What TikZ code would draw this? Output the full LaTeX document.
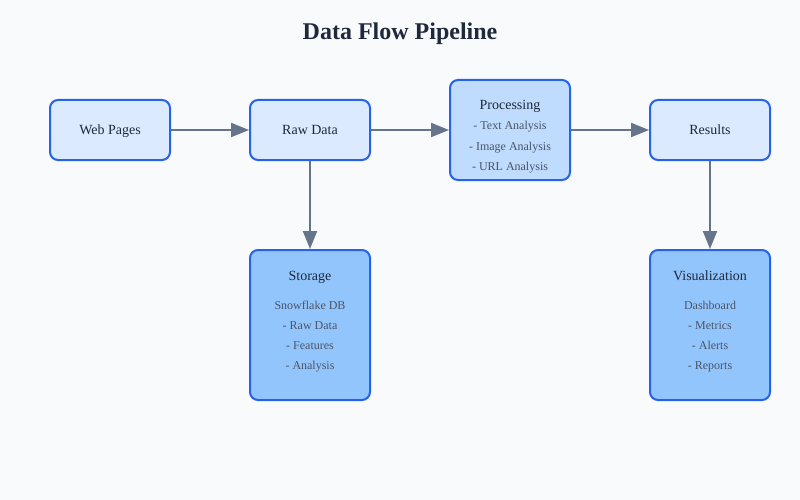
\documentclass[tikz,border=0pt]{standalone}
\usepackage{fontspec}
\setmainfont{Liberation Serif}
\usetikzlibrary{arrows.meta}
\definecolor{bg}{HTML}{F8FAFC}
\definecolor{edge}{HTML}{2563EB}
\definecolor{fillA}{HTML}{DBEAFE}
\definecolor{fillB}{HTML}{BFDBFE}
\definecolor{fillC}{HTML}{93C5FD}
\definecolor{arr}{HTML}{64748B}
\definecolor{titlec}{HTML}{1E293B}
\definecolor{subc}{HTML}{4A5568}
\tikzset{
  box/.style={draw=edge, line width=2pt, rounded corners=8pt, inner sep=0pt},
  maintxt/.style={font=\fontsize{14}{16}\selectfont, text=titlec, inner sep=0pt, anchor=base},
  subtxt/.style={font=\fontsize{12}{14}\selectfont, text=subc, inner sep=0pt, anchor=base},
  flow/.style={draw=arr, line width=2pt, -{Triangle[length=18pt,width=14pt]}}
}
\begin{document}
\begin{tikzpicture}[x=1pt,y=-1pt]
\fill[bg] (0,0) rectangle (800,500);
\useasboundingbox (0,0) rectangle (800,500);
\node[font=\fontsize{24}{28}\selectfont\bfseries, text=titlec, inner sep=0pt, anchor=base] (title) at (400,40) {Data Flow Pipeline};
% boxes
\node[box, fill=fillA, minimum width=120pt, minimum height=60pt] (web) at (110,130) {};
\node[box, fill=fillA, minimum width=120pt, minimum height=60pt] (raw) at (310,130) {};
\node[box, fill=fillB, minimum width=120pt, minimum height=100pt] (proc) at (510,130) {};
\node[box, fill=fillA, minimum width=120pt, minimum height=60pt] (res) at (710,130) {};
\node[box, fill=fillC, minimum width=120pt, minimum height=150pt] (stor) at (310,325) {};
\node[box, fill=fillC, minimum width=120pt, minimum height=150pt] (vis) at (710,325) {};
% texts
\node[maintxt] (webt) at (110,135) {Web Pages};
\node[maintxt] (rawt) at (310,135) {Raw Data};
\node[maintxt] (proct) at (510,110) {Processing};
\node[subtxt] (p1) at (510,130) {- Text Analysis};
\node[subtxt] (p2) at (510,150) {- Image Analysis};
\node[subtxt] (p3) at (510,170) {- URL Analysis};
\node[maintxt] (rest) at (710,135) {Results};
\node[maintxt] (stort) at (310,280) {Storage};
\node[subtxt] (s1) at (310,309) {Snowflake DB};
\node[subtxt] (s2) at (310,329) {- Raw Data};
\node[subtxt] (s3) at (310,349) {- Features};
\node[subtxt] (s4) at (310,369) {- Analysis};
\node[maintxt] (vist) at (710,280) {Visualization};
\node[subtxt] (v1) at (710,309) {Dashboard};
\node[subtxt] (v2) at (710,329) {- Metrics};
\node[subtxt] (v3) at (710,349) {- Alerts};
\node[subtxt] (v4) at (710,369) {- Reports};
% arrows
\draw[flow] (web.east) -- (raw.west);
\draw[flow] (raw.east) -- (proc.west);
\draw[flow] (proc.east) -- (res.west);
\draw[flow] (raw.south) -- (stor.north);
\draw[flow] (res.south) -- (vis.north);
\end{tikzpicture}
\end{document}
